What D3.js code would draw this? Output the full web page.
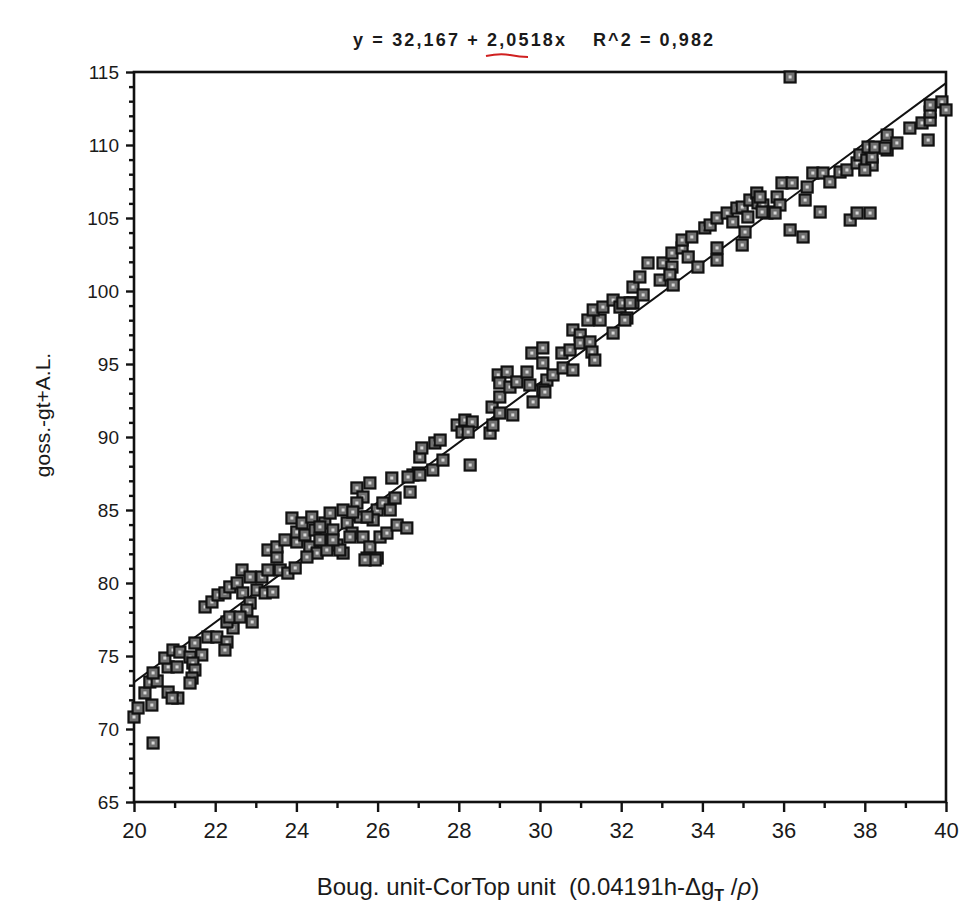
<!DOCTYPE html>
<html>
<head>
<meta charset="utf-8">
<script src="https://cdn.jsdelivr.net/npm/d3@7"></script>
<style>
  body { margin: 0; background: #fff; }
  text { font-family: "Liberation Sans", Arial, sans-serif; fill: #1a1a1a; }
</style>
</head>
<body>
<div id="chart"></div>
<script>
// regression shown in the title
var intercept = 32.167,
    slope = 2.0518;

var xTicks = [20, 22, 24, 26, 28, 30, 32, 34, 36, 38, 40];
var yTicks = [65, 70, 75, 80, 85, 90, 95, 100, 105, 110, 115];

// points, [x, y]
var lowPoints = [
  [20.47, 69.04], [20.0, 70.82], [20.10, 71.44], [20.27, 72.47], [20.44, 71.64], [20.39, 73.22],
  [20.57, 73.29], [20.47, 73.84], [20.84, 72.53], [21.08, 72.12], [20.94, 72.12], [20.84, 74.25],
  [21.06, 74.25], [20.76, 74.86], [20.96, 75.41], [21.13, 75.27], [21.38, 74.93], [21.50, 75.89],
  [21.67, 75.07], [21.45, 74.52], [21.50, 74.04], [21.43, 73.49], [21.38, 73.15], [21.82, 76.30],
  [22.04, 76.30], [22.29, 75.96], [22.24, 75.41], [22.44, 76.92], [22.29, 77.33], [22.36, 77.67],
  [21.75, 78.36], [21.92, 78.70], [22.07, 79.18], [22.24, 79.32], [22.36, 79.73], [22.54, 80.00],
  [22.66, 80.89], [22.86, 80.41], [22.68, 79.32], [22.86, 78.63], [22.78, 78.15], [22.91, 77.33],
  [22.61, 77.67], [23.03, 79.52], [23.15, 80.41], [23.23, 79.32], [23.42, 79.38], [23.30, 80.89],
  [23.30, 82.26], [23.52, 81.78], [23.52, 82.47], [23.72, 82.95], [23.60, 80.89], [23.79, 80.68],
  [23.97, 81.03], [24.01, 82.81], [23.89, 84.45], [24.01, 83.49], [24.14, 84.11], [24.21, 83.29],
  [24.38, 84.52], [24.46, 83.63], [24.33, 82.47], [24.51, 82.05], [24.63, 82.95], [24.70, 84.11],
  [24.83, 84.79], [24.90, 83.63], [25.00, 82.60], [25.15, 85.00], [25.25, 84.11], [25.15, 82.05],
  [25.37, 83.42], [25.49, 86.51], [25.64, 85.89], [25.81, 86.85], [25.49, 85.48], [25.57, 84.52],
  [25.64, 83.15], [25.74, 81.71], [25.99, 81.71], [25.81, 82.47], [25.99, 85.00], [25.89, 84.32],
  [26.06, 83.15], [26.23, 83.42], [26.13, 85.48], [26.31, 85.00], [26.43, 85.82], [26.35, 87.19],
  [26.48, 83.97], [26.72, 83.77], [26.80, 86.23], [26.87, 87.40],
  [24.26, 81.78], [24.75, 82.26], [25.07, 82.26], [24.90, 82.95], [24.58, 82.95], [25.94, 81.58],
  [25.69, 81.58], [24.58, 83.84], [25.39, 84.86], [25.74, 84.52], [25.32, 83.15]
];

var midPoints = [
  [27.00, 87.53], [27.04, 88.63], [27.09, 89.25], [27.36, 87.74], [27.41, 89.59], [27.54, 89.79],
  [27.61, 88.42], [28.28, 88.08], [27.96, 90.82], [28.15, 91.16], [28.33, 91.03], [28.08, 90.34],
  [28.23, 90.34], [28.77, 90.27], [28.84, 90.82], [28.82, 92.05], [29.01, 91.64], [29.33, 91.51],
  [29.01, 92.74], [28.97, 94.25], [29.19, 94.45], [29.01, 93.70], [29.26, 93.42], [29.43, 93.77],
  [29.68, 94.45], [29.83, 92.40], [29.80, 95.75], [30.07, 96.10], [30.07, 95.07], [30.17, 93.90],
  [30.32, 94.25], [30.07, 93.22], [30.54, 95.75], [30.57, 94.73], [30.81, 94.59], [30.74, 95.96],
  [30.81, 97.33], [30.99, 96.99], [30.99, 96.44], [31.23, 96.51], [31.28, 95.82], [31.35, 95.27],
  [31.18, 98.01], [31.48, 98.01], [31.31, 98.70], [31.55, 98.90], [31.80, 97.12], [31.80, 99.38],
  [31.97, 98.90], [32.14, 98.15], [32.29, 99.18],
  [26.75, 87.26], [27.04, 87.40], [30.12, 93.08], [29.75, 93.56]
];

var highPoints = [
  [32.09, 98.01], [32.04, 99.18], [32.22, 99.18], [32.29, 100.27], [32.54, 99.73], [32.46, 100.96],
  [32.66, 101.92], [32.96, 100.75], [33.03, 101.92], [33.25, 102.60], [33.25, 101.64], [33.20, 101.10],
  [33.28, 100.41], [33.50, 102.95], [33.50, 103.49], [33.65, 102.33], [33.74, 103.70], [33.89, 101.64],
  [34.06, 104.32], [34.19, 104.52], [34.36, 102.12], [34.36, 102.95], [34.36, 105.00], [34.61, 105.34],
  [34.75, 104.73], [34.85, 105.68], [34.98, 103.15], [35.05, 104.04], [34.98, 105.75], [35.12, 105.07],
  [35.17, 106.23], [35.34, 106.71], [35.37, 106.03], [35.49, 105.89], [35.59, 105.34], [35.74, 105.41],
  [35.84, 106.44], [35.91, 105.89], [35.96, 107.40], [36.21, 107.40], [36.16, 104.18], [36.48, 103.70],
  [36.53, 106.23], [36.58, 107.12], [36.72, 108.08], [36.90, 105.41], [36.97, 108.08], [37.14, 107.47],
  [37.39, 108.15], [37.56, 108.29], [37.64, 104.86], [37.81, 105.34], [38.13, 105.34], [37.81, 108.77],
  [37.88, 109.32], [38.05, 108.97], [38.18, 108.63], [38.00, 108.29], [38.18, 109.18], [38.55, 109.66],
  [36.16, 114.66], [38.08, 109.86], [38.25, 109.86], [38.50, 109.79], [38.55, 110.68], [38.79, 110.14],
  [39.11, 111.16], [39.41, 111.51], [39.56, 110.34], [39.61, 111.71], [39.61, 112.26], [39.61, 112.74],
  [39.90, 112.95], [40.0, 112.40], [35.42, 106.44], [35.79, 105.34], [35.47, 105.41]
];

var points = lowPoints.concat(midPoints, highPoints);

var margin = { top: 72, left: 134, right: 16, bottom: 106 },
    width = 962 - margin.left - margin.right,
    height = 908 - margin.top - margin.bottom;

var svg = d3.select("#chart")
    .append("svg")
    .attr("width", 962)
    .attr("height", 908);

var g = svg.append("g")
    .attr("transform", "translate(" + margin.left + "," + margin.top + ")");

var x = d3.scaleLinear().domain([20, 40]).range([0, width]);
var y = d3.scaleLinear().domain([65, 115]).range([height, 0]);

// minor ticks first, then major ticks with labels
g.append("g")
    .attr("transform", "translate(0," + height + ")")
    .call(d3.axisBottom(x).tickValues(d3.range(21, 40, 2)).tickSize(6).tickFormat(""));
g.append("g")
    .attr("class", "x-axis")
    .attr("transform", "translate(0," + height + ")")
    .call(d3.axisBottom(x).tickValues(xTicks).tickSize(10).tickPadding(10).tickFormat(d3.format("d")));

g.append("g")
    .call(d3.axisLeft(y).tickValues(d3.range(66, 115, 1).filter(function (d) { return d % 5 !== 0; }))
      .tickSize(5).tickFormat(""));
g.append("g")
    .attr("class", "y-axis")
    .call(d3.axisLeft(y).tickValues(yTicks).tickSize(8).tickPadding(7).tickFormat(d3.format("d")));

g.selectAll(".domain").remove();
g.selectAll(".tick line").attr("stroke", "#111").attr("stroke-width", 2.4);
g.selectAll(".x-axis text").attr("font-size", 22).attr("fill", "#1a1a1a");
g.selectAll(".y-axis text").attr("font-size", 19).attr("fill", "#1a1a1a");

// frame
g.append("rect")
    .attr("x", 0).attr("y", 0)
    .attr("width", width).attr("height", height)
    .attr("fill", "none")
    .attr("stroke", "#111")
    .attr("stroke-width", 2.6);

// fitted line
g.append("line")
    .attr("x1", x(20)).attr("y1", y(intercept + slope * 20))
    .attr("x2", x(40)).attr("y2", y(intercept + slope * 40))
    .attr("stroke", "#111")
    .attr("stroke-width", 2);

// square markers
var marks = g.selectAll(".pt")
    .data(points)
    .enter().append("g")
    .attr("class", "pt")
    .attr("transform", function (d) {
      return "translate(" + x(d[0]) + "," + y(d[1]) + ")";
    });
marks.append("rect")
    .attr("x", -5.5).attr("y", -5.5)
    .attr("width", 11).attr("height", 11)
    .attr("fill", "#6f6f6f")
    .attr("stroke", "#111")
    .attr("stroke-width", 2.2);
marks.append("rect")
    .attr("x", -1.5).attr("y", -1.5)
    .attr("width", 3).attr("height", 3)
    .attr("fill", "#d8d8d8");

// title, in two pieces so the gap matches
svg.append("text")
    .attr("x", 353).attr("y", 46)
    .attr("font-size", 18)
    .attr("font-weight", "bold")
    .attr("textLength", 212)
    .attr("lengthAdjust", "spacing")
    .text("y = 32,167 + 2,0518x");
svg.append("text")
    .attr("x", 593).attr("y", 46)
    .attr("font-size", 18)
    .attr("font-weight", "bold")
    .attr("textLength", 120)
    .attr("lengthAdjust", "spacing")
    .text("R^2 = 0,982");

// red pen mark under the slope
svg.append("path")
    .attr("d", "M486,56 Q500,53 510,55 T528,57")
    .attr("fill", "none")
    .attr("stroke", "#d02020")
    .attr("stroke-width", 2);

// axis titles
var xt = svg.append("text")
    .attr("x", 538).attr("y", 895)
    .attr("text-anchor", "middle")
    .attr("font-size", 24);
xt.append("tspan").attr("xml:space", "preserve").text("Boug. unit-CorTop unit  (0.04191h-\u0394g");
xt.append("tspan").attr("dy", 6).attr("font-size", 16).attr("font-weight", "bold").text("T");
xt.append("tspan").attr("dy", -6).text(" /");
xt.append("tspan").attr("font-style", "italic").text("\u03c1");
xt.append("tspan").text(")");

svg.append("text")
    .attr("transform", "translate(50,415) rotate(-90)")
    .attr("text-anchor", "middle")
    .attr("font-size", 21)
    .text("goss.-gt+A.L.");
</script>
</body>
</html>
